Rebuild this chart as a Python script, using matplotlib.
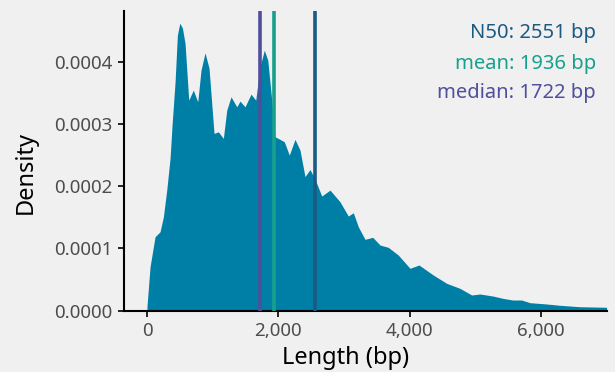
import matplotlib
matplotlib.use("Agg")
import matplotlib.pyplot as plt
import numpy as np

# Read-length density curve (bp, density)
length_bp = [0, 47, 123, 199, 250, 301, 352, 382, 428, 463, 500, 540, 580, 636, 706, 773,
             823, 884, 945, 1021, 1087, 1163, 1215, 1280, 1367, 1417, 1493, 1584, 1656,
             1721, 1787, 1839, 1900, 1950, 2026, 2091, 2167, 2254, 2330, 2406, 2482,
             2558, 2661, 2787, 2939, 3065, 3142, 3218, 3320, 3437, 3548, 3674, 3826,
             4005, 4142, 4359, 4563, 4766, 4944, 5070, 5268, 5420, 5572, 5705, 5831,
             6085, 6288, 6592, 6998]
density_e4 = [0.06, 0.705, 1.188, 1.269, 1.510, 1.940, 2.456, 2.987, 3.684, 4.436, 4.63, 4.55,
              4.303, 3.390, 3.551, 3.362, 3.873, 4.151, 3.905, 2.853, 2.879, 2.773, 3.229,
              3.443, 3.282, 3.374, 3.282, 3.486, 3.390, 3.926, 4.195, 4.034, 3.390, 2.799,
              2.757, 2.718, 2.504, 2.757, 2.585, 2.158, 2.271, 2.118, 1.844, 1.940, 1.752,
              1.522, 1.575, 1.349, 1.147, 1.179, 1.055, 1.018, 0.894, 0.680, 0.733, 0.572,
              0.438, 0.357, 0.250, 0.266, 0.233, 0.196, 0.169, 0.169, 0.126, 0.105, 0.084,
              0.061, 0.052]

stat_names = ["N50", "mean", "median"]
stat_values = [2551, 1936, 1722]
stat_colors = ["#1b5a84", "#17a08c", "#4f4f9c"]

fill_color = "#007fa6"
bg = "#f0f0f0"

plt.rcParams['font.family'] = ['Noto Sans', 'DejaVu Sans']

fig = plt.figure(figsize=(6.15, 3.72), dpi=100, facecolor=bg)
ax = fig.add_axes([0.2016, 0.1653, 0.9865 - 0.2016, 0.9712 - 0.1653], facecolor=bg)

x = np.array(length_bp, dtype=float)
y = np.array(density_e4) * 1e-4
ax.fill_between(x, 0, y, color=fill_color, linewidth=0)

for name, val, col in zip(stat_names, stat_values, stat_colors):
    ax.axvline(val, color=col, linewidth=2.6, zorder=3)

ax.set_xlim(-350, 7000)
ax.set_ylim(0, 4.83e-4)

ax.set_xticks([0, 2000, 4000, 6000])
ax.set_xticklabels(["0", "2,000", "4,000", "6,000"])
ax.set_yticks([0, 1e-4, 2e-4, 3e-4, 4e-4])
ax.set_yticklabels(["0.0000", "0.0001", "0.0002", "0.0003", "0.0004"])

for s in ["top", "right"]:
    ax.spines[s].set_visible(False)
for s in ["left", "bottom"]:
    ax.spines[s].set_linewidth(1.5)
    ax.spines[s].set_color("black")

ax.tick_params(axis="both", direction="out", length=4, width=1.2, color="black",
               labelsize=13.5, labelcolor="#4d4d4d", pad=4)

ax.set_xlabel("Length (bp)", fontsize=17, color="black")
ax.set_ylabel("Density", fontsize=17, color="black")
ax.xaxis.set_label_coords(0.459, -0.118)
ax.yaxis.set_label_coords(-0.178, 0.459)

text_y = [0.925, 0.823, 0.7245]
for name, val, col, ty in zip(stat_names, stat_values, stat_colors, text_y):
    ax.text(0.978, ty, f"{name}: {val} bp", transform=ax.transAxes,
            ha="right", va="center", fontsize=14.5, color=col)

fig.savefig("out.png", dpi=100, facecolor=bg)
